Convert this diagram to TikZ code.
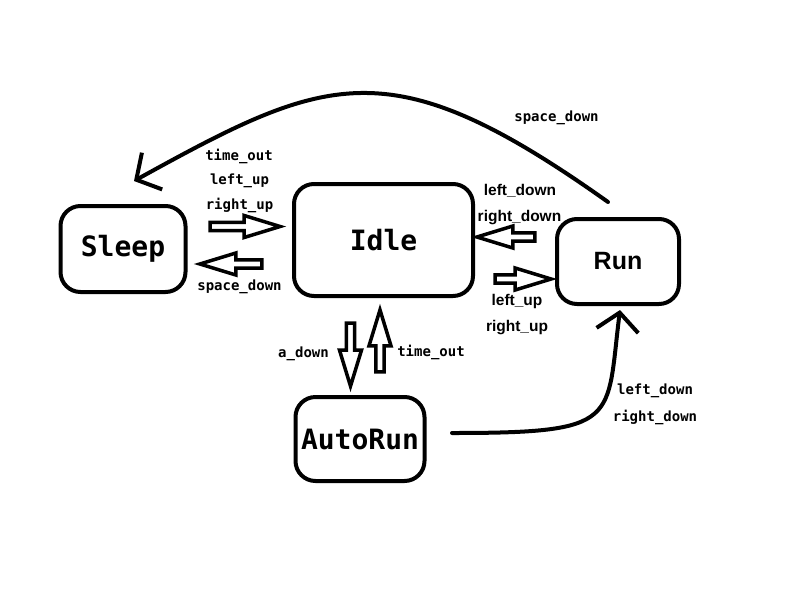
\documentclass[tikz,border=0pt]{standalone}
\usepackage{fontspec}
\usetikzlibrary{shapes.arrows,arrows.meta}
\newfontfamily\statemono{DejaVu Sans Mono}
\newfontfamily\statesans{Liberation Sans}

\begin{document}
\begin{tikzpicture}[x=1pt, y=-1pt,
	state/.style={draw, line width=4pt, rounded corners=20pt, inner sep=0pt, font=\statemono\bfseries\fontsize{28}{30}\selectfont},
	blockarrow/.style={single arrow, draw, line width=3.5pt, inner sep=0pt, minimum width=22pt, single arrow head extend=3pt, single arrow tip angle=34},
	event/.style={font=\statemono\bfseries\fontsize{14}{16}\selectfont, inner sep=0pt},
	sevent/.style={font=\statesans\bfseries\fontsize{15.5}{17}\selectfont, inner sep=0pt},
	flow/.style={line width=4pt, line cap=round, -{Straight Barb[length=18pt,width=42pt]}}]
	\fill[white] (0,0) rectangle (800,600);
	\useasboundingbox (0,0) rectangle (800,600);

	\node[state, minimum width=125pt, minimum height=86pt] (sleep) at (123,249) {Sleep};
	\node[state, minimum width=179pt, minimum height=112pt] (idle) at (383.5,240) {Idle};
	\node[state, minimum width=122pt, minimum height=85pt, font=\statesans\bfseries\fontsize{25}{27}\selectfont] (run) at (618,261.5) {Run};
	\node[state, minimum width=129pt, minimum height=84pt] (autorun) at (360,439) {AutoRun};

	\node[blockarrow, minimum height=70pt] (sleepToIdle) at (238.5,226.5) {};
	\node[blockarrow, minimum height=62pt, shape border rotate=180] (idleToSleep) at (237.5,264) {};
	\node[blockarrow, minimum height=58pt, shape border rotate=180] (runToIdle) at (512.5,237) {};
	\node[blockarrow, minimum height=56pt] (idleToRun) at (516.5,279) {};
	\node[blockarrow, minimum height=63pt, shape border rotate=270] (idleToAuto) at (350.5,348) {};
	\node[blockarrow, minimum height=62pt, shape border rotate=90] (autoToIdle) at (380,347.5) {};

	\coordinate (runArc) at (608,202);
	\coordinate (sleepArc) at (134,181);
	\draw[flow] (runArc) .. controls (390,47) and (328,74) .. (sleepArc);
	\coordinate (autoOut) at (452,433);
	\coordinate (runIn) at (620,310);
	\draw[flow] (autoOut) .. controls (622,433) and (606,421) .. (runIn);

	\node[event] (wakeA) at (239,156) {time\_out};
	\node[event] (wakeB) at (239.5,181) {left\_up};
	\node[event] (wakeC) at (239.5,205) {right\_up};
	\node[event] (sleepA) at (239.5,287) {space\_down};
	\node[event] (runSleep) at (556.5,118) {space\_down};
	\node[sevent] (stopA) at (520,191) {left\_down};
	\node[sevent] (stopB) at (519.5,218) {right\_down};
	\node[sevent] (goA) at (517,301) {left\_up};
	\node[sevent] (goB) at (517,328) {right\_up};
	\node[event] (autoA) at (303.5,354) {a\_down};
	\node[event] (autoB) at (431,352) {time\_out};
	\node[event] (autoRunA) at (655,391) {left\_down};
	\node[event] (autoRunB) at (655,417) {right\_down};
\end{tikzpicture}
\end{document}
